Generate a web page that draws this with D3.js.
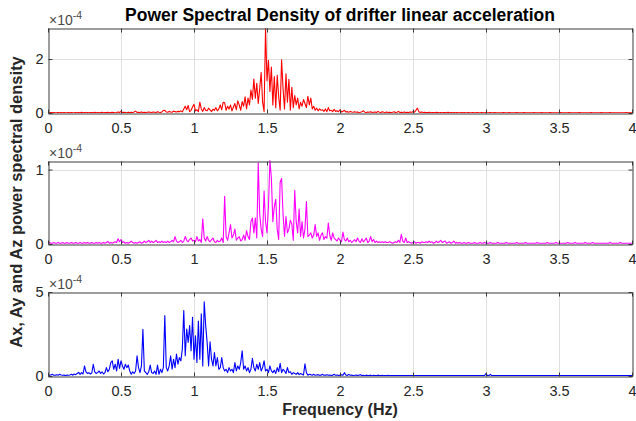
<!DOCTYPE html>
<html><head><meta charset="utf-8">
<script src="https://cdn.jsdelivr.net/npm/d3@7/dist/d3.min.js"></script>
<style>
body{margin:0;background:#fff;}
svg{display:block;font-family:"Liberation Sans",Arial,sans-serif;}
</style></head><body>
<svg id="c" width="636" height="421"></svg>
<script>
// Frequency grid (Hz), 0.01 Hz resolution
const freq = d3.range(0, 401).map(i => i / 100);
const xTicks = [0, 0.5, 1, 1.5, 2, 2.5, 3, 3.5, 4];
const xTickLabels = ["0", "0.5", "1", "1.5", "2", "2.5", "3", "3.5", "4"];
const exponentLabel = -4; // values below are in units of 1e-4

// Ax PSD (x1e-4)
const psdAx = [
0.02,0.01,0.02,0.01,0.02,0.01,0.01,0.02,0.01,0.02,
0.01,0.02,0.01,0.01,0.02,0.01,0.02,0.01,0.01,0.02,
0.01,0.02,0.01,0.03,0.01,0.02,0.01,0.02,0.01,0.02,
0.02,0.01,0.03,0.01,0.02,0.01,0.02,0.03,0.01,0.02,
0.02,0.03,0.01,0.02,0.03,0.02,0.01,0.02,0.04,0.02,
0.06,0.02,0.03,0.02,0.01,0.03,0.02,0.03,0.02,0.04,
0.07,0.02,0.03,0.02,0.04,0.02,0.03,0.02,0.03,0.04,
0.03,0.02,0.04,0.03,0.02,0.05,0.03,0.02,0.04,0.09,
0.10,0.04,0.03,0.06,0.04,0.03,0.07,0.05,0.04,0.06,
0.05,0.08,0.04,0.15,0.25,0.12,0.28,0.05,0.10,0.22,
0.32,0.08,0.12,0.05,0.40,0.15,0.06,0.20,0.10,0.08,
0.18,0.12,0.05,0.14,0.10,0.20,0.08,0.15,0.30,0.12,
0.40,0.38,0.10,0.25,0.15,0.30,0.08,0.22,0.35,0.12,
0.45,0.30,0.10,0.42,0.25,0.60,0.15,0.55,0.30,0.85,
0.50,1.26,0.55,1.10,0.35,0.90,1.50,0.40,0.05,3.13,
1.20,1.95,0.80,1.70,0.30,1.35,0.20,1.40,0.60,0.10,
1.97,0.90,0.15,1.45,0.40,1.25,0.10,0.95,0.20,0.65,
0.30,0.55,0.15,0.40,0.25,0.50,0.35,0.20,0.62,0.30,
0.55,0.15,0.25,0.10,0.18,0.08,0.15,0.10,0.12,0.06,
0.15,0.05,0.20,0.08,0.10,0.05,0.14,0.06,0.08,0.05,
0.12,0.04,0.06,0.10,0.04,0.05,0.03,0.06,0.04,0.03,
0.05,0.03,0.04,0.02,0.03,0.05,0.08,0.03,0.02,0.04,
0.03,0.05,0.02,0.03,0.04,0.02,0.06,0.03,0.02,0.05,
0.03,0.02,0.04,0.02,0.03,0.02,0.03,0.05,0.02,0.03,
0.06,0.02,0.03,0.02,0.04,0.02,0.03,0.02,0.04,0.03,
0.05,0.03,0.10,0.18,0.05,0.02,0.04,0.02,0.03,0.02,
0.02,0.03,0.01,0.02,0.02,0.01,0.03,0.02,0.01,0.02,
0.01,0.02,0.02,0.01,0.03,0.01,0.02,0.01,0.02,0.01,
0.02,0.01,0.01,0.02,0.01,0.02,0.01,0.01,0.02,0.01,
0.01,0.02,0.01,0.01,0.02,0.01,0.01,0.02,0.01,0.01,
0.02,0.01,0.01,0.02,0.01,0.01,0.02,0.01,0.01,0.01,
0.01,0.01,0.02,0.01,0.01,0.01,0.02,0.01,0.01,0.01,
0.01,0.02,0.01,0.01,0.01,0.01,0.02,0.01,0.01,0.01,
0.01,0.01,0.01,0.02,0.01,0.01,0.01,0.01,0.02,0.01,
0.01,0.01,0.01,0.01,0.02,0.01,0.01,0.01,0.01,0.01,
0.01,0.02,0.01,0.01,0.01,0.01,0.01,0.02,0.01,0.01,
0.01,0.01,0.01,0.01,0.02,0.01,0.01,0.01,0.01,0.01,
0.01,0.01,0.02,0.01,0.01,0.01,0.01,0.01,0.01,0.02,
0.01,0.01,0.01,0.01,0.01,0.02,0.01,0.01,0.01,0.01,
0.01,0.01,0.01,0.01,0.01,0.01,0.02,0.01,0.01,0.01,
0.01];

// Ay PSD (x1e-4)
const psdAy = [
0.01,0.02,0.01,0.01,0.02,0.01,0.01,0.02,0.01,0.01,
0.02,0.01,0.01,0.02,0.01,0.01,0.02,0.01,0.01,0.02,
0.01,0.01,0.02,0.01,0.01,0.02,0.01,0.02,0.01,0.01,
0.02,0.01,0.01,0.02,0.01,0.02,0.01,0.01,0.02,0.01,
0.02,0.035,0.01,0.02,0.01,0.02,0.03,0.02,0.07,0.03,
0.06,0.02,0.03,0.01,0.02,0.01,0.02,0.04,0.02,0.01,
0.02,0.01,0.02,0.03,0.01,0.02,0.04,0.02,0.03,0.05,
0.02,0.04,0.02,0.03,0.05,0.02,0.03,0.02,0.04,0.02,
0.03,0.02,0.04,0.02,0.03,0.05,0.03,0.10,0.04,0.02,
0.03,0.05,0.02,0.04,0.10,0.05,0.03,0.06,0.08,0.04,
0.05,0.03,0.10,0.04,0.06,0.02,0.34,0.08,0.04,0.10,
0.05,0.03,0.06,0.08,0.03,0.02,0.05,0.03,0.04,0.08,
0.02,0.64,0.10,0.05,0.15,0.26,0.08,0.12,0.20,0.05,
0.08,0.10,0.04,0.06,0.12,0.05,0.18,0.10,0.06,0.30,
0.35,0.15,0.35,0.08,1.09,0.40,0.20,0.10,0.71,0.30,
0.15,0.50,1.12,0.89,0.30,0.50,0.60,0.20,0.06,0.83,
0.88,0.40,0.10,0.37,0.15,0.20,0.32,0.27,0.05,0.72,
0.30,0.15,0.47,0.10,0.30,0.08,0.20,0.57,0.10,0.12,
0.15,0.08,0.12,0.26,0.10,0.15,0.05,0.12,0.15,0.06,
0.10,0.08,0.28,0.12,0.05,0.15,0.08,0.06,0.04,0.08,
0.05,0.03,0.16,0.06,0.04,0.08,0.03,0.05,0.02,0.04,
0.06,0.03,0.08,0.04,0.02,0.07,0.03,0.05,0.08,0.02,
0.04,0.10,0.03,0.06,0.02,0.04,0.02,0.03,0.02,0.03,
0.02,0.03,0.02,0.02,0.03,0.02,0.01,0.02,0.03,0.02,
0.05,0.02,0.13,0.04,0.02,0.08,0.02,0.03,0.02,0.01,
0.02,0.03,0.01,0.02,0.02,0.01,0.03,0.02,0.02,0.03,
0.02,0.04,0.02,0.03,0.01,0.02,0.04,0.02,0.03,0.05,
0.02,0.03,0.04,0.01,0.02,0.03,0.01,0.02,0.04,0.01,
0.02,0.01,0.02,0.01,0.01,0.02,0.01,0.01,0.02,0.01,
0.01,0.01,0.02,0.01,0.01,0.01,0.02,0.01,0.01,0.02,
0.01,0.01,0.01,0.02,0.01,0.01,0.01,0.01,0.02,0.01,
0.01,0.01,0.01,0.01,0.02,0.01,0.01,0.01,0.01,0.01,
0.01,0.02,0.01,0.01,0.01,0.01,0.01,0.02,0.01,0.01,
0.01,0.01,0.01,0.01,0.01,0.02,0.01,0.01,0.01,0.01,
0.01,0.01,0.02,0.01,0.01,0.01,0.01,0.01,0.02,0.01,
0.01,0.01,0.01,0.01,0.01,0.01,0.02,0.01,0.01,0.01,
0.01,0.02,0.01,0.01,0.01,0.01,0.01,0.01,0.02,0.01,
0.01,0.01,0.01,0.02,0.01,0.01,0.01,0.01,0.01,0.01,
0.01,0.01,0.01,0.01,0.01,0.02,0.01,0.01,0.01,0.01,
0.01,0.01,0.02,0.01,0.01,0.01,0.01,0.01,0.01,0.01,
0.01];

// Az PSD (x1e-4)
const psdAz = [
0.08,0.05,0.06,0.10,0.04,0.05,0.08,0.05,0.10,0.06,
0.04,0.05,0.03,0.05,0.04,0.06,0.10,0.05,0.12,0.08,
0.15,0.22,0.10,0.20,0.12,0.60,0.25,0.15,0.20,0.12,
0.18,0.70,0.25,0.15,0.20,0.30,0.15,0.25,0.12,0.20,
0.50,0.25,0.40,0.80,0.90,0.40,0.70,0.30,1.00,0.45,
0.90,0.60,0.40,0.70,0.50,0.65,0.30,0.10,0.25,0.15,
0.30,1.20,0.50,0.20,0.60,2.78,0.30,0.20,0.10,0.25,
0.65,0.20,0.15,0.30,0.10,0.65,0.10,0.40,0.20,0.50,
3.60,0.50,0.30,0.60,1.20,0.40,1.00,0.50,1.30,0.70,
1.10,0.90,1.60,3.90,1.20,2.80,2.00,3.00,1.50,3.50,
1.00,2.40,0.80,3.27,1.00,3.70,0.60,4.42,3.00,2.00,
0.60,2.04,1.00,0.60,1.40,0.60,1.10,0.40,0.50,1.10,
0.50,0.30,0.40,0.20,0.50,0.30,0.40,0.20,0.80,0.30,
0.60,0.40,0.80,1.50,0.40,0.60,0.30,0.50,0.20,0.40,
1.05,0.50,0.30,0.70,0.40,0.80,0.30,0.50,0.90,0.30,
0.40,0.20,0.60,0.30,0.20,0.35,0.15,0.50,0.25,0.75,
0.20,0.40,0.30,0.15,0.50,0.20,0.25,0.10,0.20,0.15,
0.10,0.20,0.08,0.15,0.10,0.06,0.72,0.20,0.05,0.10,
0.08,0.05,0.10,0.04,0.06,0.08,0.04,0.05,0.10,0.04,
0.05,0.08,0.04,0.06,0.03,0.05,0.10,0.04,0.06,0.03,
0.05,0.08,0.04,0.20,0.06,0.03,0.10,0.04,0.05,0.03,
0.04,0.06,0.03,0.05,0.08,0.03,0.04,0.02,0.05,0.03,
0.03,0.05,0.02,0.04,0.03,0.02,0.05,0.03,0.02,0.04,
0.02,0.03,0.02,0.04,0.02,0.02,0.03,0.02,0.02,0.03,
0.02,0.02,0.03,0.02,0.02,0.02,0.03,0.02,0.02,0.02,
0.03,0.02,0.02,0.02,0.03,0.02,0.02,0.02,0.02,0.03,
0.02,0.02,0.02,0.03,0.02,0.02,0.02,0.02,0.02,0.03,
0.02,0.02,0.02,0.02,0.03,0.02,0.02,0.02,0.02,0.02,
0.03,0.02,0.02,0.02,0.02,0.02,0.03,0.02,0.02,0.02,
0.02,0.02,0.02,0.03,0.02,0.02,0.02,0.02,0.03,0.02,
0.15,0.02,0.03,0.10,0.02,0.02,0.02,0.02,0.02,0.02,
0.02,0.02,0.02,0.02,0.02,0.02,0.02,0.02,0.02,0.02,
0.02,0.02,0.02,0.02,0.02,0.02,0.02,0.02,0.02,0.02,
0.02,0.02,0.02,0.02,0.02,0.02,0.02,0.02,0.02,0.02,
0.02,0.02,0.02,0.02,0.02,0.02,0.02,0.02,0.02,0.02,
0.02,0.02,0.02,0.02,0.02,0.02,0.02,0.02,0.02,0.02,
0.02,0.02,0.02,0.02,0.02,0.02,0.02,0.02,0.02,0.02,
0.02,0.02,0.02,0.02,0.02,0.02,0.02,0.02,0.02,0.02,
0.02,0.02,0.02,0.02,0.02,0.02,0.02,0.02,0.02,0.02,
0.02,0.02,0.02,0.02,0.02,0.02,0.02,0.02,0.02,0.02,
0.02];

const yMaxes = [3.15, 1.115, 5];
const yTicks = [[0, 2], [0, 1], [0, 5]];
const seriesColors = ["#ff0000", "#ff00ff", "#0000ff"];
const seriesValues = [psdAx, psdAy, psdAz];
const titleText = "Power Spectral Density of drifter linear acceleration";
const xLabelText = "Frequency (Hz)";
const yLabelText = "Ax, Ay and Az power spectral density";

const svg = d3.select("#c");
const L = 48, R = 632;
const panels = [{top: 28, bottom: 113}, {top: 161, bottom: 244}, {top: 292, bottom: 376}];
const x = d3.scaleLinear().domain([0, 4]).range([L, R]);
const axisColor = "#3a3a3a";
const textColor = "#262626";
const FONT = '"Liberation Sans", Arial, sans-serif';

panels.forEach((p, k) => {
  const y = d3.scaleLinear().domain([0, yMaxes[k]]).range([p.bottom, p.top]);
  const g = svg.append("g");
  // grid
  g.selectAll(".gx").data(xTicks.slice(1, -1)).enter().append("line")
    .attr("x1", d => Math.round(x(d)) + 0.5).attr("x2", d => Math.round(x(d)) + 0.5)
    .attr("y1", p.top).attr("y2", p.bottom)
    .attr("stroke", "#dfdfdf").attr("stroke-width", 1);
  g.selectAll(".gy").data(yTicks[k].filter(v => v > 0 && v < yMaxes[k])).enter().append("line")
    .attr("x1", L).attr("x2", R)
    .attr("y1", d => Math.round(y(d)) + 0.5).attr("y2", d => Math.round(y(d)) + 0.5)
    .attr("stroke", "#dfdfdf").attr("stroke-width", 1);

  // data line
  const clipId = "clip" + k;
  svg.append("clipPath").attr("id", clipId).append("rect")
    .attr("x", L).attr("y", p.top - 1).attr("width", R - L).attr("height", p.bottom - p.top + 1);
  const line = d3.line().x((d, i) => x(freq[i])).y(d => y(d));
  g.append("path").datum(seriesValues[k])
    .attr("clip-path", `url(#${clipId})`)
    .attr("fill", "none").attr("stroke", seriesColors[k])
    .attr("stroke-width", 1.1).attr("stroke-linejoin", "round")
    .attr("d", line);

  // axes
  const styleAxis = sel => {
    sel.select(".domain").attr("stroke", axisColor);
    sel.selectAll(".tick line").attr("stroke", axisColor);
    sel.selectAll("text").attr("fill", textColor).attr("font-size", 14.5)
      .attr("font-family", FONT);
  };
  const xb = d3.axisBottom(x).tickValues(xTicks).tickFormat((d, i) => xTickLabels[i])
    .tickSizeInner(-4).tickSizeOuter(0).tickPadding(9);
  g.append("g").attr("transform", `translate(0,${p.bottom + 0.5})`).call(xb).call(styleAxis);
  const xt = d3.axisTop(x).tickValues(xTicks).tickFormat("").tickSizeInner(-4).tickSizeOuter(0);
  g.append("g").attr("transform", `translate(0,${p.top + 0.5})`).call(xt).call(styleAxis);
  const yl = d3.axisLeft(y).tickValues(yTicks[k]).tickFormat(d3.format("d"))
    .tickSizeInner(-4).tickSizeOuter(0).tickPadding(5);
  g.append("g").attr("transform", `translate(${L + 0.5},0)`).call(yl).call(styleAxis);
  const yr = d3.axisRight(y).tickValues(yTicks[k]).tickFormat("").tickSizeInner(-4).tickSizeOuter(0);
  g.append("g").attr("transform", `translate(${R + 0.5},0)`).call(yr).call(styleAxis);

  // exponent label
  const ex = g.append("text").attr("x", L + 1).attr("y", p.top - 3)
    .attr("fill", "#4a4a4a").attr("font-size", 14).attr("font-family", FONT);
  ex.append("tspan").text("\u00d710");
  ex.append("tspan").attr("dy", -6).attr("font-size", 10.5).text(String(exponentLabel));
});

svg.append("text").attr("x", (L + R) / 2).attr("y", 21).attr("text-anchor", "middle")
  .attr("font-weight", "bold").attr("font-size", 17.5).attr("fill", "#000").text(titleText);
svg.append("text").attr("x", (L + R) / 2).attr("y", 415).attr("text-anchor", "middle")
  .attr("font-weight", "bold").attr("font-size", 16).attr("fill", textColor).text(xLabelText);
svg.append("text").attr("transform", "translate(22,202) rotate(-90)").attr("text-anchor", "middle")
  .attr("font-weight", "bold").attr("font-size", 16.5).attr("fill", textColor).text(yLabelText);
</script>
</body></html>
